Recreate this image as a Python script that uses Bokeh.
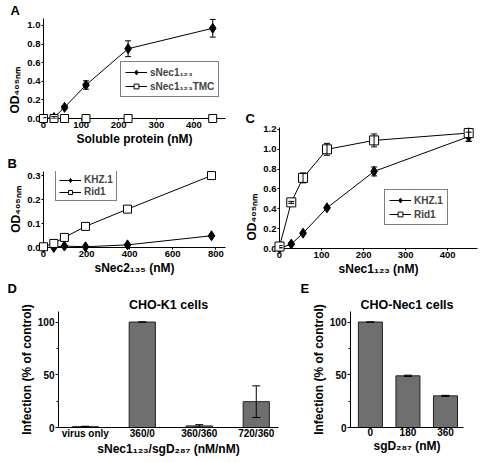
from bokeh.plotting import figure
from bokeh.models import (Range1d, FixedTicker, NumeralTickFormatter, Whisker, TeeHead,
                          ColumnDataSource, Legend, LegendItem, Title)
from bokeh.layouts import row, column
from bokeh.embed import file_html
from bokeh.resources import INLINE

# ---------------- data ----------------
# Panel A
a_conc = [0, 28, 56, 113, 225, 450]
a_snec1 = [0.0, 0.01, 0.12, 0.36, 0.75, 0.97]
a_snec1_err = [0.01, 0.01, 0.02, 0.045, 0.085, 0.095]
a_tmc = [0.0, 0.0, 0.0, 0.0, 0.0, 0.0]

# Panel B
b_conc = [0, 48, 97, 195, 390, 780]
b_khz = [0.0, 0.0, 0.006, 0.003, 0.011, 0.049]
b_rid = [0.003, 0.017, 0.042, 0.088, 0.16, 0.30]

# Panel C
c_conc = [0, 28, 56, 113, 225, 450]
c_khz = [0.0, 0.045, 0.155, 0.41, 0.777, 1.128]
c_khz_err = [0.005, 0.01, 0.01, 0.01, 0.045, 0.045]
c_rid = [0.02, 0.465, 0.712, 1.0, 1.09, 1.164]
c_rid_err = [0.01, 0.01, 0.05, 0.06, 0.065, 0.085]

# Panel D
d_groups = ["virus only", "360/0", "360/360", "720/360"]
d_vals = [0.8, 100, 1.5, 24.5]
d_err = [0.4, 0.0, 1.2, 15.0]

# Panel E
e_groups = ["0", "180", "360"]
e_vals = [100, 49, 30]
e_err = [0.0, 0.6, 0.5]

FONT = "Liberation Sans"


def make_fig(w, h, xr, yr, bl, br, bt, bb, tick_size="9.5px"):
    p = figure(width=w, height=h, x_range=Range1d(*xr), y_range=Range1d(*yr),
               output_backend="svg", toolbar_location=None,
               min_border_left=bl, min_border_right=br,
               min_border_top=bt, min_border_bottom=bb)
    p.outline_line_color = None
    p.grid.visible = False
    for ax in p.axis:
        ax.axis_line_color = "black"
        ax.axis_line_width = 1
        ax.major_tick_line_color = "black"
        ax.major_tick_in = 0
        ax.major_tick_out = 2
        ax.minor_tick_line_color = None
        ax.major_label_text_font = FONT
        ax.major_label_text_font_style = "bold"
        ax.major_label_text_font_size = tick_size
        ax.major_label_text_color = "black"
        ax.major_label_standoff = 1
        ax.axis_label_text_font = FONT
        ax.axis_label_text_font_style = "bold"
        ax.axis_label_text_font_size = "12px"
        ax.axis_label_text_color = "black"
        ax.axis_label_standoff = 1
    return p


def add_whisker(p, x, y, err, head=6):
    src = ColumnDataSource(dict(x=x, upper=[v + e for v, e in zip(y, err)],
                                lower=[v - e for v, e in zip(y, err)]))
    w = Whisker(source=src, base="x", upper="upper", lower="lower",
                line_color="black", line_width=1, level="overlay",
                upper_head=TeeHead(size=head, line_color="black", line_width=1),
                lower_head=TeeHead(size=head, line_color="black", line_width=1))
    p.add_layout(w)


def add_series(p, x, y, err, marker, fill, size):
    r_line = p.line(x, y, line_color="black", line_width=1, level="overlay")
    if err is not None:
        add_whisker(p, x, y, err)
    r_pts = p.scatter(x, y, marker=marker, size=size, fill_color=fill,
                      line_color="black", line_width=1, level="overlay")
    return [r_line, r_pts]


def add_legend(p, items, loc, row_h=12, spacing=2, padding=4):
    leg = Legend(items=[LegendItem(label=l, renderers=r) for l, r in items],
                 location=loc, border_line_color="black", border_line_width=1,
                 background_fill_color="white", background_fill_alpha=1,
                 label_text_font=FONT, label_text_font_style="bold",
                 label_text_font_size="10px", glyph_width=22, glyph_height=row_h,
                 label_height=row_h, spacing=spacing, padding=padding, margin=0,
                 label_standoff=3)
    p.add_layout(leg, "center")


def add_title(p, text, offset, align="left", size="13px", standoff=1, side="above"):
    p.add_layout(Title(text=text, align=align, offset=offset, standoff=standoff,
                       text_font=FONT, text_font_style="bold", text_font_size=size,
                       text_color="black"), side)


# ---------------- Panel A ----------------
pA = make_fig(240, 153, (0, 484), (0, 1.075), 40, 15, 18, 35)
pA.xaxis.ticker = FixedTicker(ticks=[0, 100, 200, 300, 400])
pA.yaxis.ticker = FixedTicker(ticks=[0, 0.2, 0.4, 0.6, 0.8, 1.0])
pA.yaxis.formatter = NumeralTickFormatter(format="0.0")
pA.xaxis.axis_label = "Soluble protein (nM)"
rA1 = add_series(pA, a_conc, a_snec1, a_snec1_err, "diamond", "black", 10)
rA2 = add_series(pA, a_conc, a_tmc, None, "square", "white", 8)
add_legend(pA, [("sNec1₁₂₃", rA1), ("sNec1₁₂₃TMC", rA2)], (77, 21))
add_title(pA, "A", -33)
add_title(pA, "OD₄₀₅ₙₘ", 5, align="left", size="12px", standoff=5, side="left")

# ---------------- Panel B ----------------
pB = make_fig(240, 125, (0, 845), (0, 0.317), 43, 2, 18, 31)
pB.xaxis.ticker = FixedTicker(ticks=[0, 200, 400, 600, 800])
pB.yaxis.ticker = FixedTicker(ticks=[0, 0.1, 0.2, 0.3])
pB.yaxis.formatter = NumeralTickFormatter(format="0.0")
pB.xaxis.axis_label = "sNec2₁₃₅ (nM)"
pB.yaxis.axis_label = "OD₄₀₅ₙₘ"
rB1 = add_series(pB, b_conc, b_khz, None, "diamond", "black", 10)
rB2 = add_series(pB, b_conc, b_rid, None, "square", "white", 8)
add_legend(pB, [("KHZ.1", rB1), ("Rid1", rB2)], (12, 46), row_h=10, spacing=1, padding=3)
add_title(pB, "B", -36)

# ---------------- Panel C ----------------
pC = make_fig(238, 278, (0, 471), (0, 1.22), 39, 1, 127, 29)
pC.xaxis.ticker = FixedTicker(ticks=[0, 100, 200, 300, 400])
pC.yaxis.ticker = FixedTicker(ticks=[0, 0.2, 0.4, 0.6, 0.8, 1.0, 1.2])
pC.yaxis.formatter = NumeralTickFormatter(format="0.0")
pC.xaxis.axis_label = "sNec1₁₂₃ (nM)"
rC1 = add_series(pC, c_conc, c_khz, c_khz_err, "diamond", "black", 10)
rC2 = add_series(pC, c_conc, c_rid, c_rid_err, "square", "white", 9)
add_legend(pC, [("KHZ.1", rC1), ("Rid1", rC2)], (105, 23))
add_title(pC, "C", -34, standoff=4)
add_title(pC, "OD₄₀₅ₙₘ", 8, align="left", size="12px", standoff=3, side="left")


# ---------------- Panels D, E ----------------
def bar_panel(w, groups, vals, err, xr, bl, br, bar_w, title, title_off, let, let_off):
    p = make_fig(w, 182, xr, (0, 110), bl, br, 30, 33, tick_size="10px")
    idx = list(range(len(groups)))
    p.vbar(x=idx, top=vals, width=bar_w, fill_color="#6f6f6f",
           line_color="#222222", line_width=1)
    add_whisker(p, idx, vals, err, head=8)
    p.xaxis.ticker = FixedTicker(ticks=idx)
    p.xaxis.major_label_overrides = {i: g for i, g in zip(idx, groups)}
    p.xaxis.major_tick_out = 0
    p.xaxis.major_label_standoff = 0
    p.xaxis.axis_label_standoff = 0
    p.yaxis.ticker = FixedTicker(ticks=[0, 50, 100], minor_ticks=[25, 75])
    p.yaxis.major_tick_out = 3
    p.yaxis.minor_tick_line_color = "black"
    p.yaxis.minor_tick_in = 0
    p.yaxis.minor_tick_out = 2
    p.yaxis.axis_label = "Infection (% of control)"
    add_title(p, title, title_off, align="center", size="12.5px", standoff=0)
    add_title(p, let, let_off, standoff=0)
    return p


pD = bar_panel(300, d_groups, d_vals, d_err, (-0.47, 3.39), 58, 22, 0.46,
               "CHO-K1 cells", -19, "D", -51)
pD.xaxis.axis_label = "sNec1₁₂₃/sgD₂₈₇ (nM/nM)"

pE = bar_panel(178, e_groups, e_vals, e_err, (-0.53, 2.48), 50, 15, 0.64,
               "CHO-Nec1 cells", -3, "E", -50)
pE.xaxis.axis_label = "sgD₂₈₇ (nM)"

layout = column(row(column(pA, pB), pC), row(pD, pE))

with open("out.html", "w") as f:
    f.write(file_html(layout, INLINE))
